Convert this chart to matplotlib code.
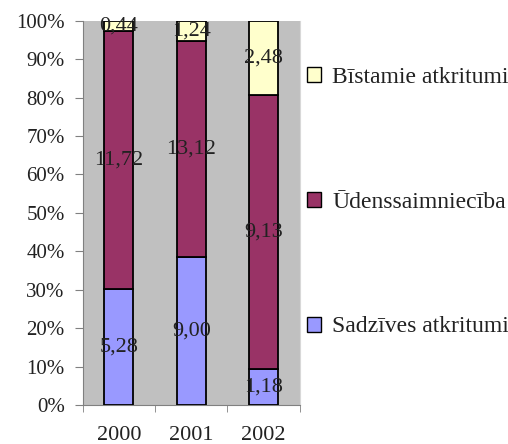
import matplotlib
matplotlib.use("Agg")
import matplotlib.pyplot as plt
from matplotlib.patches import Patch
import numpy as np

plt.rcParams['font.family'] = ['Liberation Serif', 'DejaVu Serif']

years = ['2000', '2001', '2002']
series_names = ['Sadzīves atkritumi', 'Ūdenssaimniecība', 'Bīstamie atkritumi']
sadzives = [5.28, 9.00, 1.18]
udens = [11.72, 13.12, 9.13]
bistamie = [0.44, 1.24, 2.48]
colors = ['#9999FF', '#993366', '#FFFFCC']

values = np.array([sadzives, udens, bistamie])
totals = values.sum(axis=0)
shares = values / totals * 100

fig = plt.figure(figsize=(5.08, 4.44), dpi=100)
ax = fig.add_axes([0.163, 0.088, 0.427, 0.865])
ax.set_facecolor('#C0C0C0')

x = np.arange(len(years))
bottom = np.zeros(len(years))
for i in range(3):
    ax.bar(x, shares[i], 0.4, bottom=bottom, color=colors[i],
           edgecolor='black', linewidth=1.3, zorder=3)
    for j in range(len(years)):
        txt = ('%.2f' % values[i][j]).replace('.', ',')
        ax.text(x[j], bottom[j] + shares[i][j] / 2, txt, ha='center',
                va='center', fontsize=16, color='#222222', zorder=4)
    bottom = bottom + shares[i]

ax.set_xlim(-0.5, 2.5)
ax.set_ylim(0, 100)
ax.set_yticks(np.arange(0, 101, 10))
ax.set_yticklabels(['%d%%' % v for v in range(0, 101, 10)], fontsize=15,
                   color='#222222')
ax.set_xticks(x)
ax.set_xticklabels(years, fontsize=16, color='#222222')
ax.tick_params(axis='x', length=0, pad=15)
ax.set_xticks([-0.5, 0.5, 1.5, 2.5], minor=True)
ax.tick_params(axis='x', which='minor', length=5, color='#808080')
ax.tick_params(axis='y', length=6, color='#808080', pad=7)
ax.spines['top'].set_visible(False)
ax.spines['right'].set_color('#D8D8D8')
for s in ['left', 'bottom']:
    ax.spines[s].set_color('#808080')

handles = [Patch(facecolor=colors[i], edgecolor='black', label=series_names[i])
           for i in [2, 1, 0]]
fig.legend(handles=handles, loc='upper left', bbox_to_anchor=(0.586, 0.871),
           frameon=False, fontsize=17, handlelength=0.6, handleheight=0.6,
           handletextpad=0.47, labelspacing=4.4, borderaxespad=0,
           labelcolor='#222222')

fig.savefig('out.png', dpi=100)
